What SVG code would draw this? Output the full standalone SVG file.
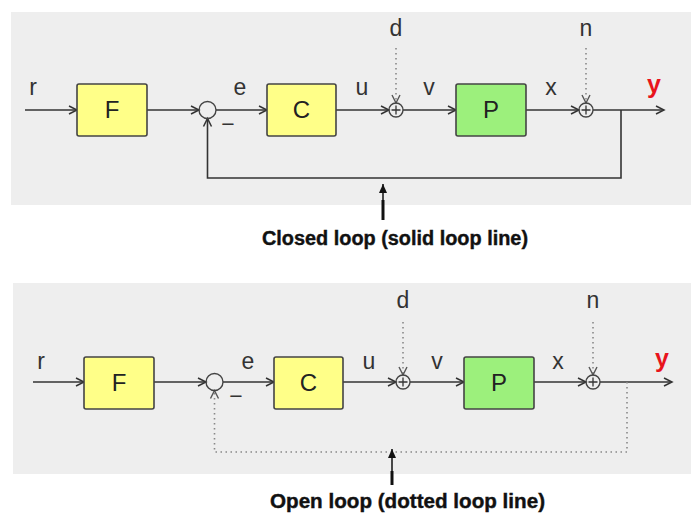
<svg xmlns="http://www.w3.org/2000/svg" width="691" height="514" viewBox="0 0 691 514">
<style>
.panel{fill:#eeeeee}
.blk{stroke:#444;stroke-width:1.6}
.yel{fill:#ffff88}
.grn{fill:#9cf07c}
.blab{font-family:"Liberation Sans",Arial,sans-serif;font-size:24px;fill:#222;text-anchor:middle}
.lab{font-family:"Liberation Sans",Arial,sans-serif;font-size:23px;fill:#333;text-anchor:middle}
.ylab{font-family:"Liberation Sans",Arial,sans-serif;font-size:25px;font-weight:bold;fill:#e8141c;text-anchor:middle}
.sig{fill:none;stroke:#333;stroke-width:1.6}
.dot{fill:none;stroke:#888;stroke-width:1.6;stroke-dasharray:1.5 3.5}
.sum{fill:none;stroke:#444;stroke-width:1.4}
.plus{stroke:#333;stroke-width:1.3}
.cap{font-family:"Liberation Sans",Arial,sans-serif;font-size:20px;font-weight:bold;fill:#111;stroke:#111;stroke-width:0.4}
</style>
<defs>
<marker id="ah" markerUnits="userSpaceOnUse" markerWidth="10" markerHeight="10" refX="8" refY="4.5" orient="auto" overflow="visible">
<path d="M0,0.5 L8,4.5 L0,8.5" fill="none" stroke="#333" stroke-width="1.5"/>
</marker>
<marker id="ahg" markerUnits="userSpaceOnUse" markerWidth="10" markerHeight="10" refX="8" refY="4.5" orient="auto" overflow="visible">
<path d="M0,0.5 L8,4.5 L0,8.5" fill="none" stroke="#555" stroke-width="1.4"/>
</marker>
<marker id="fa" markerUnits="userSpaceOnUse" markerWidth="10" markerHeight="10" refX="9" refY="4" orient="auto" overflow="visible">
<path d="M0,0 L9,4 L0,8 Z" fill="#111"/>
</marker>
</defs>

<rect class="panel" x="11" y="12" width="680" height="193"/>
<rect class="panel" x="13" y="283" width="678" height="191"/>

<!-- Top: closed loop -->
<g id="closed-loop">
<g id="connectors-top">
<line class="sig" x1="25" y1="110" x2="77" y2="110" marker-end="url(#ah)"/>
<line class="sig" x1="147" y1="110" x2="199" y2="110" marker-end="url(#ah)"/>
<line class="sig" x1="216" y1="110" x2="267" y2="110" marker-end="url(#ah)"/>
<line class="sig" x1="336" y1="110" x2="389" y2="110" marker-end="url(#ah)"/>
<line class="sig" x1="403" y1="110" x2="456" y2="110" marker-end="url(#ah)"/>
<line class="sig" x1="526" y1="110" x2="579" y2="110" marker-end="url(#ah)"/>
<line class="sig" x1="593" y1="110" x2="664" y2="110" marker-end="url(#ah)"/>
<line class="dot" x1="396" y1="48" x2="396" y2="103" marker-end="url(#ahg)"/>
<line class="dot" x1="586" y1="48" x2="586" y2="103" marker-end="url(#ahg)"/>
<polyline class="sig" points="621,110 621,178 207.5,178 207.5,118.5" marker-end="url(#ah)"/>
</g>
<g id="F-top"><rect class="blk yel" x="77" y="84" width="70" height="52" rx="2"/><text class="blab" x="112" y="118">F</text></g>
<g id="sum1-top"><circle class="sum" cx="207.5" cy="110" r="8.5"/></g>
<g id="C-top"><rect class="blk yel" x="267" y="84" width="69" height="52" rx="2"/><text class="blab" x="301.5" y="118">C</text></g>
<g id="sum2-top"><circle class="sum" cx="396" cy="110" r="7"/><path class="plus" d="M391.5,110H400.5M396,105.5V114.5"/></g>
<g id="P-top"><rect class="blk grn" x="456" y="84" width="70" height="52" rx="2"/><text class="blab" x="491" y="118">P</text></g>
<g id="sum3-top"><circle class="sum" cx="586" cy="110" r="7"/><path class="plus" d="M581.5,110H590.5M586,105.5V114.5"/></g>
<g id="labels-top">
<text class="lab" x="33" y="95">r</text>
<text class="lab" x="240" y="95">e</text>
<text class="lab" x="228" y="132">−</text>
<text class="lab" x="362" y="95">u</text>
<text class="lab" x="429" y="95">v</text>
<text class="lab" x="551" y="95">x</text>
<text class="ylab" x="654" y="93">y</text>
<text class="lab" x="396" y="36">d</text>
<text class="lab" x="586" y="36">n</text>
</g>
<g id="caption-top">
<line x1="383" y1="220" x2="383" y2="200" stroke="#111" stroke-width="3"/>
<line x1="383" y1="202" x2="383" y2="184" stroke="#111" stroke-width="1.5" marker-end="url(#fa)"/>
<text class="cap" x="262" y="245" textLength="266" lengthAdjust="spacingAndGlyphs">Closed loop (solid loop line)</text>
</g>
</g>

<!-- Bottom: open loop -->
<g id="open-loop" transform="translate(7,272)">
<g id="connectors-bottom">
<line class="sig" x1="26" y1="110" x2="77" y2="110" marker-end="url(#ah)"/>
<line class="sig" x1="147" y1="110" x2="199" y2="110" marker-end="url(#ah)"/>
<line class="sig" x1="216" y1="110" x2="267" y2="110" marker-end="url(#ah)"/>
<line class="sig" x1="336" y1="110" x2="389" y2="110" marker-end="url(#ah)"/>
<line class="sig" x1="403" y1="110" x2="457" y2="110" marker-end="url(#ah)"/>
<line class="sig" x1="527" y1="110" x2="579" y2="110" marker-end="url(#ah)"/>
<line class="sig" x1="593" y1="110" x2="665" y2="110" marker-end="url(#ah)"/>
<line class="dot" x1="396" y1="50" x2="396" y2="103" marker-end="url(#ahg)"/>
<line class="dot" x1="586" y1="50" x2="586" y2="103" marker-end="url(#ahg)"/>
<polyline class="dot" points="620,110 620,180 207.5,180 207.5,118.5" marker-end="url(#ahg)"/>
</g>
<g id="F-bottom"><rect class="blk yel" x="77" y="85" width="70" height="52" rx="2"/><text class="blab" x="112" y="119">F</text></g>
<g id="sum1-bottom"><circle class="sum" cx="207.5" cy="110" r="8.5"/></g>
<g id="C-bottom"><rect class="blk yel" x="267" y="85" width="69" height="52" rx="2"/><text class="blab" x="301.5" y="119">C</text></g>
<g id="sum2-bottom"><circle class="sum" cx="396" cy="110" r="7"/><path class="plus" d="M391.5,110H400.5M396,105.5V114.5"/></g>
<g id="P-bottom"><rect class="blk grn" x="457" y="85" width="70" height="52" rx="2"/><text class="blab" x="492" y="119">P</text></g>
<g id="sum3-bottom"><circle class="sum" cx="586" cy="110" r="7"/><path class="plus" d="M581.5,110H590.5M586,105.5V114.5"/></g>
<g id="labels-bottom">
<text class="lab" x="34" y="97">r</text>
<text class="lab" x="241" y="97">e</text>
<text class="lab" x="229" y="132">−</text>
<text class="lab" x="362" y="97">u</text>
<text class="lab" x="430" y="97">v</text>
<text class="lab" x="551" y="97">x</text>
<text class="ylab" x="655" y="95">y</text>
<text class="lab" x="396" y="36">d</text>
<text class="lab" x="586" y="36">n</text>
</g>
<g id="caption-bottom">
<line x1="385" y1="213" x2="385" y2="199" stroke="#111" stroke-width="3"/>
<line x1="385" y1="201" x2="385" y2="177" stroke="#111" stroke-width="1.5" marker-end="url(#fa)"/>
<text class="cap" x="263" y="236" textLength="275" lengthAdjust="spacingAndGlyphs">Open loop (dotted loop line)</text>
</g>
</g>
</svg>
